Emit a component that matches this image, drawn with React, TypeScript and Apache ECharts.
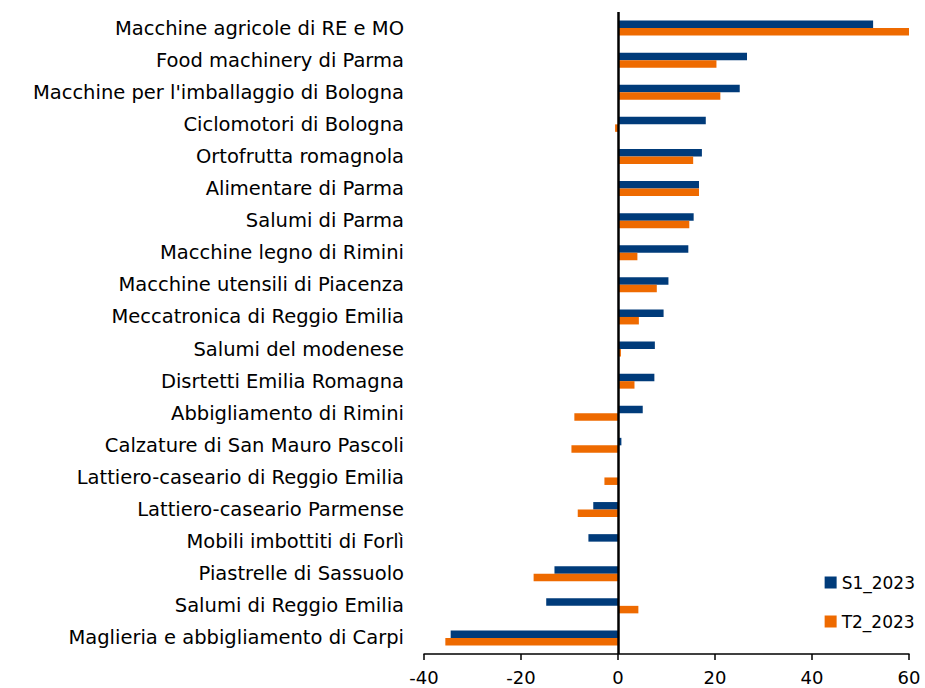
import React, { useEffect, useRef } from "react";
import * as echarts from "echarts";

const categories = [
  "Macchine agricole di RE e MO",
  "Food machinery di Parma",
  "Macchine per l'imballaggio di Bologna",
  "Ciclomotori di Bologna",
  "Ortofrutta romagnola",
  "Alimentare di Parma",
  "Salumi di Parma",
  "Macchine legno di Rimini",
  "Macchine utensili di Piacenza",
  "Meccatronica di Reggio Emilia",
  "Salumi del modenese",
  "Disrtetti Emilia Romagna",
  "Abbigliamento di Rimini",
  "Calzature di San Mauro Pascoli",
  "Lattiero-caseario di Reggio Emilia",
  "Lattiero-caseario Parmense",
  "Mobili imbottiti di Forlì",
  "Piastrelle di Sassuolo",
  "Salumi di Reggio Emilia",
  "Maglieria e abbigliamento di Carpi",
];

const s1_2023 = [52.6, 26.6, 25.1, 18.1, 17.3, 16.7, 15.6, 14.5, 10.4, 9.4, 7.6, 7.5, 5.1, 0.7, 0.0, -5.1, -6.1, -13.1, -14.8, -34.5];
const t2_2023 = [61.0, 20.3, 21.1, -0.6, 15.5, 16.7, 14.7, 4.0, 8.0, 4.3, 0.6, 3.4, -9.0, -9.6, -2.8, -8.3, 0.0, -17.4, 4.2, -35.6];

const xTicks = { min: -40, max: 60, interval: 20 };

export default function App() {
  const ref = useRef<HTMLDivElement>(null);
  useEffect(() => {
    if (!ref.current) return;
    const chart = echarts.init(ref.current, null, { renderer: "svg" });
    chart.setOption({
      animation: false,
      textStyle: { fontFamily: "DejaVu Sans" },
      grid: { left: 424, right: 16, top: 12, bottom: 34 },
      legend: {
        orient: "vertical",
        right: 5,
        top: 569,
        icon: "rect",
        itemWidth: 12,
        itemHeight: 12,
        itemGap: 22,
        textStyle: { fontSize: 17, color: "#000", fontFamily: "DejaVu Sans" },
        data: ["S1_2023", "T2_2023"],
      },
      xAxis: {
        type: "value",
        min: xTicks.min,
        max: xTicks.max,
        interval: xTicks.interval,
        axisLine: { show: true, onZero: false, lineStyle: { color: "#000", width: 1.5 } },
        axisTick: { show: true, length: 6, lineStyle: { color: "#000", width: 1.5 } },
        splitLine: { show: false },
        axisLabel: { fontSize: 18, color: "#000", margin: 14, fontFamily: "DejaVu Sans" },
      },
      yAxis: {
        type: "category",
        inverse: true,
        data: categories,
        axisLine: { show: false },
        axisTick: { show: false },
        axisLabel: { fontSize: 19.5, color: "#000", margin: 20, fontFamily: "DejaVu Sans" },
      },
      series: [
        {
          name: "S1_2023",
          type: "bar",
          data: s1_2023,
          barWidth: 7.5,
          barGap: "0%",
          itemStyle: { color: "#003B7A" },
          markLine: {
            silent: true,
            symbol: "none",
            label: { show: false },
            lineStyle: { color: "#000", width: 2.5, type: "solid" },
            data: [{ xAxis: 0 }],
          },
        },
        {
          name: "T2_2023",
          type: "bar",
          data: t2_2023,
          barWidth: 7.5,
          barGap: "0%",
          itemStyle: { color: "#EE6A00" },
        },
      ],
    });
    return () => chart.dispose();
  }, []);
  return (
    <div
      ref={ref}
      style={{ position: "fixed", left: 0, top: 0, width: 925, height: 688, background: "#fff" }}
    />
  );
}
